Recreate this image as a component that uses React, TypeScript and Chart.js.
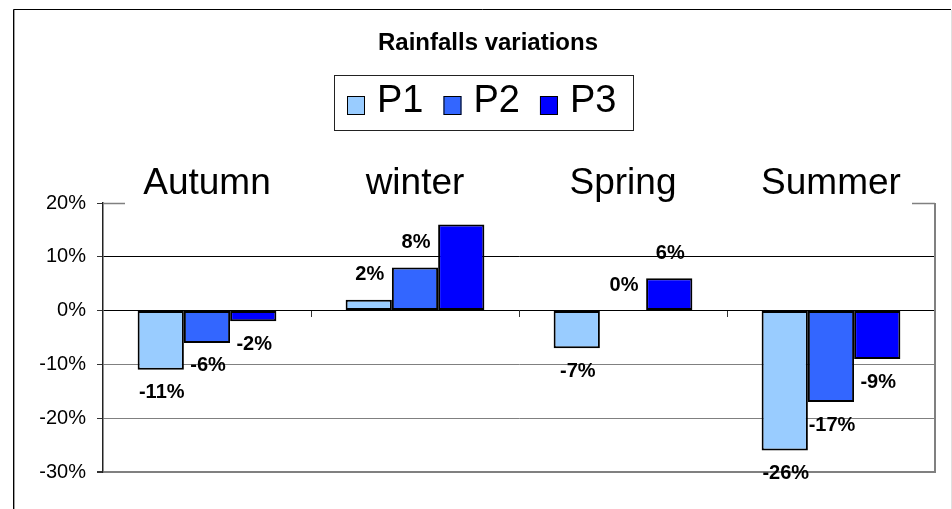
import React, { useEffect, useRef } from "react";
import { Chart, registerables } from "chart.js";

Chart.register(...registerables);

const TITLE = "Rainfalls variations";
const seasons = ["Autumn", "winter", "Spring", "Summer"];
const seriesNames = ["P1", "P2", "P3"];
const p1 = [-11, 2, -7, -26];
const p2 = [-6, 8, 0, -17];
const p3 = [-2, 16, 6, -9];
const yTicks = [20, 10, 0, -10, -20, -30];
const seriesColors = ["#99CCFF", "#3366FF", "#0000FF"];

const FONT = "'Liberation Sans', Arial, Helvetica, sans-serif";
const W = 952;
const H = 509;

const decor = {
  id: "decor",
  beforeDraw(chart: any) {
    const ctx = chart.ctx;
    ctx.save();
    ctx.fillStyle = "#ffffff";
    ctx.fillRect(0, 0, chart.width, chart.height);
    ctx.restore();
  },
  afterDatasetsDraw(chart: any) {
    const ctx = chart.ctx;
    const area = chart.chartArea;
    ctx.save();
    ctx.font = `bold 20px ${FONT}`;
    ctx.fillStyle = "#000";
    ctx.textAlign = "center";
    ctx.textBaseline = "middle";
    chart.data.datasets.forEach((ds: any, di: number) => {
      const meta = chart.getDatasetMeta(di);
      meta.data.forEach((el: any, i: number) => {
        const v = ds.data[i] as number;
        const y = v >= 0 ? el.y - 25 : el.y + 23;
        if (y < area.top) return;
        ctx.fillText(`${v}%`, el.x + 1, y);
      });
    });
    ctx.restore();
  },
  afterDraw(chart: any) {
    const ctx = chart.ctx;
    const area = chart.chartArea;
    const xs = chart.scales.x;
    const ys = chart.scales.y;
    ctx.save();

    // plot area partial top border and right border
    ctx.strokeStyle = "#808080";
    ctx.lineWidth = 1.5;
    ctx.beginPath();
    ctx.moveTo(area.left, area.top + 0.5);
    ctx.lineTo(area.left + 22, area.top + 0.5);
    ctx.moveTo(area.right - 23, area.top + 0.5);
    ctx.lineTo(area.right, area.top + 0.5);
    ctx.stroke();
    ctx.lineWidth = 2;
    ctx.beginPath();
    ctx.moveTo(area.right, area.top);
    ctx.lineTo(area.right, area.bottom + 1);
    ctx.stroke();

    // category separator ticks on the zero line
    const y0 = Math.round(ys.getPixelForValue(0));
    ctx.strokeStyle = "#333";
    ctx.lineWidth = 1;
    ctx.beginPath();
    for (let i = 1; i < seasons.length; i++) {
      const bx = Math.round((xs.getPixelForValue(i - 1) + xs.getPixelForValue(i)) / 2) + 0.5;
      ctx.moveTo(bx, y0);
      ctx.lineTo(bx, y0 + 6);
    }
    ctx.stroke();

    // outer frame
    ctx.strokeStyle = "#000";
    ctx.lineWidth = 1;
    ctx.beginPath();
    ctx.moveTo(13.5, H + 2);
    ctx.lineTo(13.5, 9.5);
    ctx.lineTo(W - 1, 9.5);
    ctx.stroke();
    ctx.strokeStyle = "#a0a0a0";
    ctx.beginPath();
    ctx.moveTo(14.5, 10);
    ctx.lineTo(14.5, H + 2);
    ctx.stroke();
    ctx.strokeStyle = "#e0e0e0";
    ctx.beginPath();
    ctx.moveTo(W - 0.5, 10);
    ctx.lineTo(W - 0.5, H + 2);
    ctx.stroke();

    // title
    ctx.fillStyle = "#000";
    ctx.font = `bold 24px ${FONT}`;
    ctx.textAlign = "center";
    ctx.textBaseline = "middle";
    ctx.fillText(TITLE, 488, 43);

    // legend
    ctx.font = `38px ${FONT}`;
    const sw = 18, sh = 19, gap = 12, spacing = 20;
    const widths = chart.data.datasets.map((d: any) => sw + gap + ctx.measureText(d.label).width);
    const total = widths.reduce((a: number, b: number) => a + b, 0) + spacing * (widths.length - 1);
    let lx = Math.round(482 - total / 2);
    const boxTop = 75, boxBottom = 130;
    ctx.strokeStyle = "#222";
    ctx.lineWidth = 1;
    ctx.strokeRect(lx - 13 + 0.5, boxTop + 0.5, Math.round(total + 30), boxBottom - boxTop);
    const midY = (boxTop + boxBottom) / 2;
    chart.data.datasets.forEach((d: any, i: number) => {
      ctx.fillStyle = d.backgroundColor;
      ctx.fillRect(lx, 96, sw, sh);
      ctx.strokeStyle = "#000";
      ctx.strokeRect(lx + 0.5, 96.5, sw - 1, sh - 1);
      ctx.fillStyle = "#000";
      ctx.textAlign = "left";
      ctx.textBaseline = "middle";
      ctx.fillText(d.label, lx + sw + gap, midY - 0.5);
      lx += widths[i] + spacing;
    });

    ctx.restore();
  },
};

export default function App() {
  const ref = useRef<HTMLCanvasElement | null>(null);

  useEffect(() => {
    document.body.style.margin = "0";
    const canvas = ref.current;
    if (!canvas) return;
    const seriesValues = [p1, p2, p3];
    const chart = new Chart(canvas, {
      type: "bar",
      data: {
        labels: seasons,
        datasets: seriesNames.map((name, i) => ({
          label: name,
          data: seriesValues[i],
          backgroundColor: seriesColors[i],
          borderColor: "#000",
          borderWidth: 2,
          borderSkipped: false,
          barPercentage: 1,
          categoryPercentage: 0.667,
        })),
      },
      options: {
        responsive: false,
        devicePixelRatio: 1,
        animation: false,
        events: [],
        layout: { padding: { left: 0, right: 17, top: 0, bottom: 37 } },
        plugins: {
          legend: { display: false },
          title: { display: false },
          tooltip: { enabled: false },
        },
        scales: {
          x: {
            position: "top",
            grid: { display: false, drawTicks: false },
            border: { display: false },
            ticks: {
              color: "#000",
              font: { family: FONT, size: 37, lineHeight: 1 },
              padding: 1,
              maxRotation: 0,
              autoSkip: false,
            },
            afterFit(s: any) {
              s.height = 203;
            },
          },
          y: {
            min: Math.min(...yTicks),
            max: Math.max(...yTicks),
            afterBuildTicks(s: any) {
              s.ticks = yTicks.map((v) => ({ value: v }));
            },
            ticks: {
              color: "#000",
              font: { family: FONT, size: 20 },
              padding: 11,
              callback: (v: any) => `${v}%`,
            },
            grid: {
              color: (c: any) => {
                const v = c.tick ? c.tick.value : 0;
                if (v === 20) return "rgba(0,0,0,0)";
                if (v >= 0) return "#000";
                return "#808080";
              },
              lineWidth: (c: any) => (c.tick && c.tick.value === -30 ? 2 : 1),
              tickColor: "#333",
              tickLength: 6,
            },
            border: { color: "#222", width: 1.5 },
            afterFit(s: any) {
              s.width = 103;
            },
          },
        },
      },
      plugins: [decor],
    });
    return () => chart.destroy();
  }, []);

  return (
    <div style={{ width: W, height: H }}>
      <canvas ref={ref} width={W} height={H} style={{ display: "block", width: W, height: H }} />
    </div>
  );
}
